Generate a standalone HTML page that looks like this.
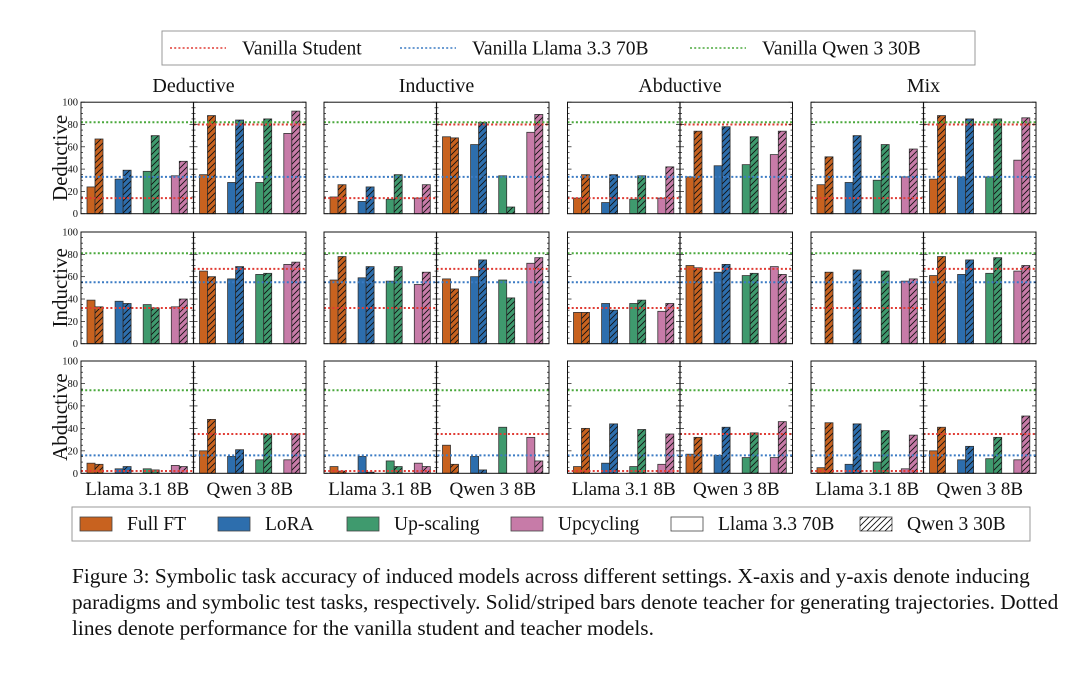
<!DOCTYPE html>
<html><head><meta charset="utf-8"><style>
html,body{margin:0;padding:0;background:#fff;width:1080px;height:681px;overflow:hidden}
svg text{font-family:"Liberation Serif",serif;fill:#111}
.cap{position:absolute;left:72px;top:563px;white-space:nowrap;font-family:"Liberation Serif",serif;font-size:21.3px;line-height:26px;color:#111}
</style></head><body>
<svg id="chart" width="1080" height="560" style="position:absolute;left:0;top:0" xmlns="http://www.w3.org/2000/svg">
<defs>
<pattern id="hatch" patternUnits="userSpaceOnUse" width="6" height="6">
<path d="M-1,7 L7,-1 M-4,4 L4,-4 M2,10 L10,2" stroke="#111" stroke-width="0.9"/>
</pattern>
</defs>
</svg>
<div class="cap">Figure 3: Symbolic task accuracy of induced models across different settings. X-axis and y-axis denote inducing<br>paradigms and symbolic test tasks, respectively. Solid/striped bars denote teacher for generating trajectories. Dotted<br>lines denote performance for the vanilla student and teacher models.</div>
<script>
const colTitles=["Deductive","Inductive","Abductive","Mix"];
const rowTitles=["Deductive","Inductive","Abductive"];
const students=["Llama 3.1 8B","Qwen 3 8B"];
const methods=["Full FT","LoRA","Up-scaling","Upcycling"];
const row0=[
 [[24,67,31,39,38,70,34,47],[35,88,28,84,28,85,72,92]],
 [[15,26,11,24,13,35,14,26],[69,68,62,82,34,6,73,89]],
 [[14,35,10,35,13,34,14,42],[33,74,43,78,44,69,53,74]],
 [[26,51,28,70,30,62,33,58],[31,88,33,85,33,85,48,86]]];
const row1=[
 [[39,33,38,36,35,32,33,40],[65,60,58,69,62,63,71,73]],
 [[57,78,59,69,56,69,53,64],[58,49,60,75,57,41,72,77]],
 [[28,28,36,30,36,39,29,36],[70,68,64,71,61,63,69,62]],
 [[0,64,0,66,0,65,56,58],[61,78,62,75,63,77,65,70]]];
const row2=[
 [[9,8,4,6,4,3,7,6],[20,48,15,21,12,35,12,35]],
 [[6,2,15,1,11,6,9,6],[25,8,15,3,41,0,32,11]],
 [[6,40,9,44,6,39,8,35],[17,32,16,41,14,36,14,46]],
 [[5,45,8,44,10,38,4,34],[20,41,12,24,13,32,12,51]]];
const values=[row0,row1,row2];
const studentLlama=[14,32,2];
const studentQwen=[80,67,35];
const teacherLlama=[33,55,16];
const teacherQwen=[82,81,74];
const yTicks=[0,20,40,60,80,100];

const NS="http://www.w3.org/2000/svg";
const svg=document.getElementById('chart');
function el(tag,attrs,parent,txt){const e=document.createElementNS(NS,tag);for(const k in attrs)e.setAttribute(k,attrs[k]);if(txt!==undefined)e.textContent=txt;(parent||svg).appendChild(e);return e;}
const colors=["#c8621f","#2d6ead","#3f9a6e","#c77ba8"];
const colX=[81,324,567.5,811];
const panelW=225;
const rowY0=[213.7,343.7,473.3];
const rowH=[111.5,111.7,112.3];
function yS(r,v){return rowY0[r]-v/100*rowH[r];}

for(let r=0;r<3;r++){
 const rl=el('text',{x:0,y:0,'font-size':21,'text-anchor':'middle',transform:`translate(67,${rowY0[r]-rowH[r]/2}) rotate(-90)`},svg,rowTitles[r]);
 
 
 for(let c=0;c<4;c++){
  const g=el('g',{});
  
  
  const x0=colX[c],top=yS(r,100),bot=rowY0[r];
  for(let s=0;s<2;s++){
   const sx=x0+s*panelW/2;
   const vals=values[r][c][s];
   for(let m=0;m<4;m++){
    for(let h=0;h<2;h++){
     const v=vals[m*2+h];
     const bx=sx+6+m*28.1+h*8;
     const y=yS(r,v);
     const b=el('rect',{x:bx,y:y,width:8,height:Math.max(0,bot-y),fill:colors[m],stroke:'#333','stroke-width':0.8},g);
     
     
     if(h){el('rect',{x:bx,y:y,width:8,height:Math.max(0,bot-y),fill:'url(#hatch)',stroke:'none'},g);}
    }
   }
   const sv=s?studentQwen[r]:studentLlama[r];
   const sl=el('line',{x1:sx,x2:sx+panelW/2,y1:yS(r,sv),y2:yS(r,sv),stroke:'#e03c35','stroke-width':2,'stroke-dasharray':'2 2.2'},g);
   
   
  }
  const bl=el('line',{x1:x0,x2:x0+panelW,y1:yS(r,teacherLlama[r]),y2:yS(r,teacherLlama[r]),stroke:'#3b7bc4','stroke-width':2,'stroke-dasharray':'2 2.2'},g);
  
  
  const gl=el('line',{x1:x0,x2:x0+panelW,y1:yS(r,teacherQwen[r]),y2:yS(r,teacherQwen[r]),stroke:'#4aa83c','stroke-width':2,'stroke-dasharray':'2 2.2'},g);
  
  
  el('rect',{x:x0,y:top,width:panelW,height:bot-top,fill:'none',stroke:'#111','stroke-width':1},g);
  el('line',{x1:x0+panelW/2,x2:x0+panelW/2,y1:top,y2:bot,stroke:'#111','stroke-width':1.2},g);
  for(let t=0;t<=100;t+=5){
   const y=yS(r,t);const L=t%20===0?4:2;
   for(const ex of [x0,x0+panelW/2,x0+panelW]){
    if(ex!==x0+panelW)el('line',{x1:ex,x2:ex+L,y1:y,y2:y,stroke:'#111','stroke-width':0.7},g);
    if(ex!==x0)el('line',{x1:ex-L,x2:ex,y1:y,y2:y,stroke:'#111','stroke-width':0.7},g);
   }
  }
  if(c===0){
   for(const t of yTicks){
    const tl=el('text',{x:x0-3,y:yS(r,t)+3.5,'font-size':10.5,'text-anchor':'end',fill:'#444'},g,t);
    
    
   }
  }
  if(r===0){
   const ct=el('text',{x:x0+panelW/2,y:92,'font-size':20,'text-anchor':'middle'},svg,colTitles[c]);
   
   
  }
  if(r===2){
   for(let s=0;s<2;s++){
    const xl=el('text',{x:x0+panelW/4+s*panelW/2,y:495,'font-size':19,'text-anchor':'middle'},svg,students[s]);
    
    
   }
  }
 }
}
const lt=el('g',{});


el('rect',{x:162,y:31,width:813,height:34,fill:'#fff',stroke:'#999','stroke-width':1},lt);
const lineLeg=[["Vanilla Student","#e03c35",170],["Vanilla Llama 3.3 70B","#3b7bc4",400],["Vanilla Qwen 3 30B","#4aa83c",690]];
for(const [lab,col,x] of lineLeg){
 const e=el('g',{},lt);
 
 
 el('line',{x1:x,x2:x+56,y1:48,y2:48,stroke:col,'stroke-width':1.6,'stroke-dasharray':'2 2.2'},e);
 el('text',{x:x+72,y:54.5,'font-size':19.5},e,lab);
}
const lb=el('g',{});


el('rect',{x:72,y:507,width:958,height:34,fill:'#fff',stroke:'#999','stroke-width':1},lb);
const barLeg=[["Full FT",colors[0],80,false],["LoRA",colors[1],218,false],["Up-scaling",colors[2],347,false],["Upcycling",colors[3],511,false],["Llama 3.3 70B","#fff",671,false],["Qwen 3 30B","#fff",860,true]];
for(const [lab,col,x,h] of barLeg){
 const e=el('g',{},lb);
 
 
 el('rect',{x:x,y:517,width:32,height:14,fill:col,stroke:'#444','stroke-width':0.8},e);
 if(h)el('rect',{x:x,y:517,width:32,height:14,fill:'url(#hatch)'},e);
 el('text',{x:x+47,y:530,'font-size':19.5},e,lab);
}
</script>
</body></html>
